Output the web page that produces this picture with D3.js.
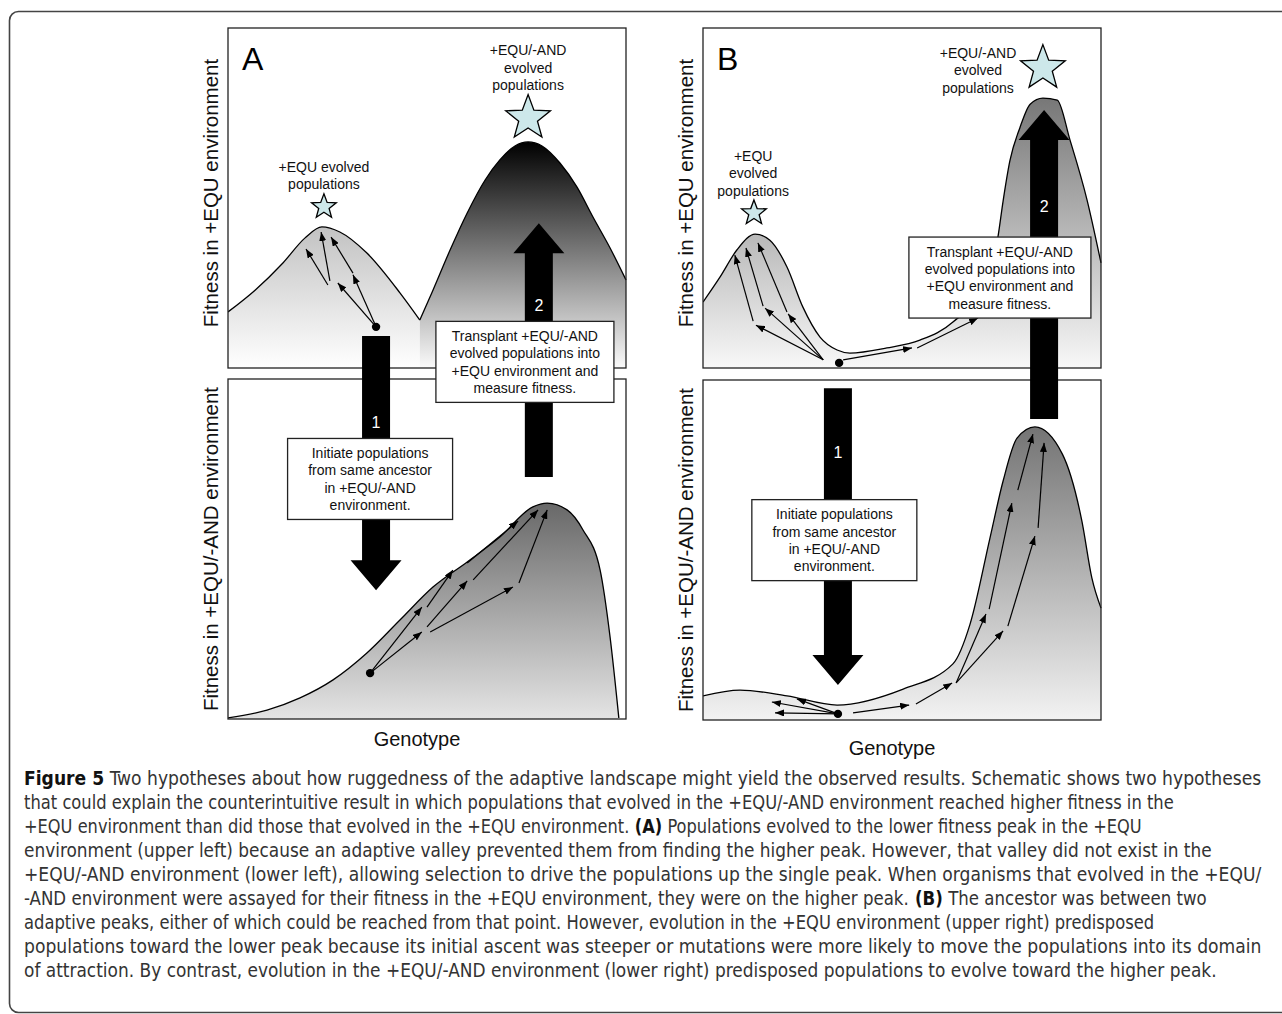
<!DOCTYPE html>
<html>
<head>
<meta charset="utf-8">
<script src="https://cdn.jsdelivr.net/npm/d3@7"></script>
<style>
  body { margin: 0; background: #fff; }
  svg { display: block; }
</style>
</head>
<body>
<svg id="fig" width="1282" height="1014"></svg>
<script>
// fitness landscapes, genotype 0-100 vs fitness 0-100
const hillA_upperLeft = [[0,16.5],[6.8,22.9],[13.8,30.9],[19.3,38.2],[23.6,41.5],[28.1,40],[34.9,33.8],[43.2,22.1],[48.2,14.1]];
const hillA_upperRight = [[48.2,14.1],[51.5,22.9],[55.8,34.7],[60.1,45.6],[64.6,55.3],[68.3,61.2],[72.1,65.3],[75.4,66.5],[78.9,65.3],[83.4,60.3],[87.7,53.2],[91.7,44.4],[96,35.3],[100,25.9]];
const landscapeA_lower = [[0,0.3],[9.8,2.6],[18.1,6.2],[26.4,11.5],[34.9,19.4],[43.2,29.1],[51.5,38.8],[60.1,46.2],[68.3,53.5],[76.6,62.4],[80.2,63.5],[85.2,61.5],[89.2,55.6],[93.5,43.8],[96,24.1],[98.2,0.3]];
const landscapeB_upper = [[0,19.4],[4.3,26.8],[8.5,34.7],[13.1,39.4],[16.8,37.6],[21.1,29.7],[25.1,17.9],[29.4,9.1],[33.7,5.3],[36.9,4.4],[46.2,5.9],[54.5,8.2],[62.8,13.5],[69.6,22.9],[74.1,38.5],[75.4,49.1],[77.1,60.9],[79.6,70.6],[82.2,77.6],[85.4,79.4],[89,78.8],[92.2,67.1],[96.5,49.4],[100,30.9]];
const landscapeB_lower = [[0,7.1],[9.3,8.8],[21.1,7.1],[33.7,4.4],[50.3,9.1],[62.8,16.5],[67.1,28.2],[72.1,53.5],[75.4,70.3],[78.9,82.9],[83.4,86.2],[90.3,78.2],[95.2,58.5],[97.7,41.8],[100,32.9]];

// ancestors [genotype, fitness]
const ancestorA_upper = [37.2, 12.1];
const ancestorA_lower = [35.7, 13.5];
const ancestorB_upper = [34.2, 1.5];
const ancestorB_lower = [33.9, 1.8];

// mutation steps [g1, f1, g2, f2]
const stepsA_upper = [[37.2,12.1,27.6,25],[37.2,12.1,31.4,27.4],[25.1,24.4,19.6,35],[25.6,25.6,23.4,40],[31.4,27.9,25.9,38.5]];
const stepsA_lower = [[35.7,13.5,48.7,32.9],[35.7,13.5,48.7,25.6],[50,32.9,56.5,43.8],[50,27.1,60.1,40.6],[50.8,25.6,71.6,38.8],[60.1,45.9,72.9,58.2],[61.6,40.9,77.9,61.5],[73.1,40,80.2,61.5]];
const stepsB_upper = [[30.2,2.4,13.3,12.6],[30.2,2.4,15.6,17.6],[30.2,2.4,21.4,15.9],[12.6,13.8,8,33.2],[15.1,18.2,10.8,35.3],[21.1,16.5,13.8,36.8],[35.2,2.4,52.5,5.9],[53.8,5.9,69.1,14.7]];
const stepsB_lower = [[33.9,1.8,17.3,5.3],[33.9,1.8,23.6,6.2],[33.9,1.8,18.1,2.1],[37.7,2.1,51.8,4.4],[53.5,4.7,62.6,10.9],[63.6,10.9,71.1,31.2],[63.6,10.9,75.4,26.2],[71.9,32.6,77.6,63.8],[76.6,27.6,83.4,54.1],[79.1,67.6,82.9,84.1],[84.2,56.5,85.7,81.5]];

// stars marking evolved populations [genotype, fitness, kind]
const starsA = [[24.1,47.4,"small"],[75.4,73.5,"big"]];
const starsB = [[12.8,45.6,"small"],[85.4,88.2,"big"]];

// star labels: g, f of last line
const starLabelsA = [{lines:["+EQU evolved","populations"], g:24.1, f:54.1},{lines:["+EQU/-AND","evolved","populations"], g:75.4, f:83.2}];
const starLabelsB = [{lines:["+EQU","evolved","populations"], g:12.6, f:52.1},{lines:["+EQU/-AND","evolved","populations"], g:69.1, f:82.4}];

// transfer arrows between the two environments
const transfersA = [{label:"1", g:37.2, tail:["upper",9.4], tip:["lower",37.9], labelAt:["lower",87.4]},
                    {label:"2", g:78.1, tail:["lower",71.2], tip:["upper",42.6], labelAt:["upper",18.5]}];
const transfersB = [{label:"1", g:33.9, tail:["lower",97.6], tip:["lower",10.3], labelAt:["lower",78.8]},
                    {label:"2", g:85.7, tail:["lower",88.5], tip:["upper",75.9], labelAt:["upper",47.6]}];

// note boxes
const transplantText = ["Transplant +EQU/-AND","evolved populations into","+EQU environment and","measure fitness."];
const initiateText = ["Initiate populations","from same ancestor","in +EQU/-AND","environment."];
const notesA = [{lines:transplantText, g:74.6, at:["upper",1.8], w:178},{lines:initiateText, g:35.7, at:["lower",70.6], w:165}];
const notesB = [{lines:transplantText, g:74.6, at:["upper",26.6], w:182},{lines:initiateText, g:33, at:["lower",52.9], w:165}];

const yTitles = ["Fitness in +EQU environment", "Fitness in +EQU/-AND environment"];
const xTitle = "Genotype";

const captionLines = [
  [["Figure 5",1],["Two hypotheses about how ruggedness of the adaptive landscape might yield the observed results. Schematic shows two hypotheses",0]],
  [["that could explain the counterintuitive result in which populations that evolved in the +EQU/-AND environment reached higher fitness in the",0]],
  [["+EQU environment than did those that evolved in the +EQU environment.",0],["(A)",1],["Populations evolved to the lower fitness peak in the +EQU",0]],
  [["environment (upper left) because an adaptive valley prevented them from finding the higher peak. However, that valley did not exist in the",0]],
  [["+EQU/-AND environment (lower left), allowing selection to drive the populations up the single peak. When organisms that evolved in the +EQU/",0]],
  [["-AND environment were assayed for their fitness in the +EQU environment, they were on the higher peak.",0],["(B)",1],["The ancestor was between two",0]],
  [["adaptive peaks, either of which could be reached from that point. However, evolution in the +EQU environment (upper right) predisposed",0]],
  [["populations toward the lower peak because its initial ascent was steeper or mutations were more likely to move the populations into its domain",0]],
  [["of attraction. By contrast, evolution in the +EQU/-AND environment (lower right) predisposed populations to evolve toward the higher peak.",0]]
];
const captionLineEnds = [1262, 1175, 1142, 1213, 1262, 1207, 1155, 1262, 1217];

const svg = d3.select("#fig");
const font = "'Liberation Sans', Arial, Helvetica, sans-serif";
const defs = svg.append("defs");

defs.append("marker")
  .attr("id", "head")
  .attr("viewBox", "0 0 9 7")
  .attr("refX", 9).attr("refY", 3.5)
  .attr("markerWidth", 9).attr("markerHeight", 7)
  .attr("markerUnits", "userSpaceOnUse")
  .attr("orient", "auto")
  .append("path").attr("d", "M0,0L9,3.5L0,7Z").attr("fill", "#000");

//outer frame
svg.append("rect")
  .attr("x", 9.5).attr("y", 11.5).attr("width", 1300).attr("height", 1001)
  .attr("rx", 9).attr("fill", "none").attr("stroke", "#444").attr("stroke-width", 1.6);

function gradient(id, y1, y2, c1, c2) {
  const g = defs.append("linearGradient").attr("id", id)
    .attr("gradientUnits", "userSpaceOnUse")
    .attr("x1", 0).attr("x2", 0).attr("y1", y1).attr("y2", y2);
  g.append("stop").attr("offset", 0).attr("stop-color", c1);
  g.append("stop").attr("offset", 1).attr("stop-color", c2);
  return "url(#" + id + ")";
}

function starPath(r) {
  const pts = [];
  for (let i = 0; i < 10; i++) {
    const a = -Math.PI / 2 + i * Math.PI / 5;
    const rr = i % 2 ? r * 0.42 : r;
    pts.push([rr * Math.cos(a), rr * Math.sin(a)]);
  }
  return "M" + pts.map(p => p.join(",")).join("L") + "Z";
}

function drawPanel(p) {
  const x = d3.scaleLinear([0, 100], [p.x0, p.x1]);
  const y = {
    upper: d3.scaleLinear([0, 100], [p.upper[1], p.upper[0]]),
    lower: d3.scaleLinear([0, 100], [p.lower[1], p.lower[0]])
  };
  const g = svg.append("g");

  ["upper", "lower"].forEach(k => {
    defs.append("clipPath").attr("id", "clip" + p.id + k)
      .append("rect").attr("x", p.x0).attr("y", y[k](100))
      .attr("width", p.x1 - p.x0 + 1).attr("height", y[k](0) - y[k](100));
  });

  // landscapes
  p.hills.forEach((h, i) => {
    const sy = y[h.env];
    const peak = d3.max(h.data, d => d[1]);
    const fill = gradient("grad" + p.id + i, sy(peak), sy(0), h.top, h.bottom);
    const area = d3.area().x(d => x(d[0])).y0(sy(0)).y1(d => sy(d[1])).curve(d3.curveMonotoneX);
    const line = d3.line().x(d => x(d[0])).y(d => sy(d[1])).curve(d3.curveMonotoneX);
    const hg = g.append("g").attr("clip-path", "url(#clip" + p.id + h.env + ")");
    hg.append("path").datum(h.data).attr("d", area).attr("fill", fill);
    hg.append("path").datum(h.data).attr("d", line).attr("fill", "none")
      .attr("stroke", "#000").attr("stroke-width", 1.3);
  });

  // boxes
  ["upper", "lower"].forEach(k => {
    g.append("rect").attr("x", p.x0).attr("y", y[k](100))
      .attr("width", p.x1 - p.x0).attr("height", y[k](0) - y[k](100))
      .attr("fill", "none").attr("stroke", "#222").attr("stroke-width", 1.3);
  });

  // mutation steps and ancestors
  ["upper", "lower"].forEach(k => {
    g.selectAll(null).data(p.steps[k]).join("line")
      .attr("x1", d => x(d[0])).attr("y1", d => y[k](d[1]))
      .attr("x2", d => x(d[2])).attr("y2", d => y[k](d[3]))
      .attr("stroke", "#000").attr("stroke-width", 1.2)
      .attr("marker-end", "url(#head)");
    g.append("circle").attr("cx", x(p.ancestor[k][0])).attr("cy", y[k](p.ancestor[k][1]))
      .attr("r", 4.2).attr("fill", "#000");
  });

  // stars + labels
  const starR = { small: 13, big: 23.5 };
  g.selectAll(null).data(p.stars).join("path")
    .attr("transform", d => `translate(${x(d[0])},${y.upper(d[1])})`)
    .attr("d", d => starPath(starR[d[2]]))
    .attr("fill", "#cde8ea").attr("stroke", "#000").attr("stroke-width", 1.3);

  p.starLabels.forEach(l => {
    const n = l.lines.length;
    l.lines.forEach((t, i) => {
      g.append("text").attr("x", x(l.g)).attr("y", y.upper(l.f) - (n - 1 - i) * 17.5 + 5)
        .attr("text-anchor", "middle").attr("font-family", font).attr("font-size", 14)
        .attr("fill", "#111").text(t);
    });
  });

  // big transfer arrows
  const sw = 14, hw = 25.5, hl = 30;
  p.transfers.forEach(a => {
    const cx = x(a.g);
    const yt = y[a.tail[0]](a.tail[1]);
    const yp = y[a.tip[0]](a.tip[1]);
    const dir = yp > yt ? 1 : -1;
    const yb = yp - dir * hl;
    g.append("path")
      .attr("d", `M${cx - sw},${yt}L${cx - sw},${yb}L${cx - hw},${yb}L${cx},${yp}L${cx + hw},${yb}L${cx + sw},${yb}L${cx + sw},${yt}Z`)
      .attr("fill", "#000");
    g.append("text").attr("x", cx).attr("y", y[a.labelAt[0]](a.labelAt[1]) + 6)
      .attr("text-anchor", "middle").attr("font-family", font).attr("font-size", 16)
      .attr("fill", "#fff").text(a.label);
  });

  // note boxes
  p.notes.forEach(nb => {
    const cx = x(nb.g), cy = y[nb.at[0]](nb.at[1]);
    const h = 81;
    g.append("rect").attr("x", cx - nb.w / 2).attr("y", cy - h / 2)
      .attr("width", nb.w).attr("height", h)
      .attr("fill", "#fff").attr("stroke", "#222").attr("stroke-width", 1.3);
    nb.lines.forEach((t, i) => {
      g.append("text").attr("x", cx).attr("y", cy - 26 + i * 17.4 + 5)
        .attr("text-anchor", "middle").attr("font-family", font).attr("font-size", 14)
        .attr("fill", "#111").text(t);
    });
  });

  // panel letter and titles
  g.append("text").attr("x", p.x0 + 14).attr("y", y.upper(100) + 42)
    .attr("font-family", font).attr("font-size", 32).attr("fill", "#000").text(p.id);

  ["upper", "lower"].forEach((k, i) => {
    const cy = (y[k](0) + y[k](100)) / 2 + (i === 0 ? -5 : 0);
    g.append("text")
      .attr("transform", `translate(${p.x0 - 10},${cy}) rotate(-90)`)
      .attr("text-anchor", "middle").attr("font-family", font).attr("font-size", 20.5)
      .attr("fill", "#111").text(yTitles[i]);
  });
  g.append("text").attr("x", (p.x0 + p.x1) / 2 - 10).attr("y", y.lower(0) + 27 + p.genotypeShift)
    .attr("text-anchor", "middle").attr("font-family", font).attr("font-size", 20)
    .attr("fill", "#111").text(xTitle);
}

drawPanel({
  id: "A", x0: 228, x1: 626, upper: [28, 368], lower: [379, 719], genotypeShift: 0,
  hills: [
    { env: "upper", data: hillA_upperLeft, top: "#c2c2c2", bottom: "#ffffff" },
    { env: "upper", data: hillA_upperRight, top: "#000000", bottom: "#fafafa" },
    { env: "lower", data: landscapeA_lower, top: "#686868", bottom: "#e4e4e4" }
  ],
  steps: { upper: stepsA_upper, lower: stepsA_lower },
  ancestor: { upper: ancestorA_upper, lower: ancestorA_lower },
  stars: starsA, starLabels: starLabelsA, transfers: transfersA, notes: notesA
});

drawPanel({
  id: "B", x0: 703, x1: 1101, upper: [28, 368], lower: [380, 720], genotypeShift: 8,
  hills: [
    { env: "upper", data: landscapeB_upper, top: "#777777", bottom: "#f8f8f8" },
    { env: "lower", data: landscapeB_lower, top: "#747474", bottom: "#f2f2f2" }
  ],
  steps: { upper: stepsB_upper, lower: stepsB_lower },
  ancestor: { upper: ancestorB_upper, lower: ancestorB_lower },
  stars: starsB, starLabels: starLabelsB, transfers: transfersB, notes: notesB
});

// caption: runs laid side by side, then each line squeezed horizontally to its width
const cap = svg.append("g")
  .attr("font-family", "'Liberation Sans Narrow', 'DejaVu Sans Condensed', 'Open Sans', sans-serif")
  .attr("font-size", 19);
const gap = 5.5;
captionLines.forEach((runs, i) => {
  const lg = cap.append("g");
  let xx = 0;
  runs.forEach((r, j) => {
    const t = lg.append("text")
      .attr("x", xx).attr("y", 0)
      .attr("font-weight", r[1] ? "bold" : "normal")
      .attr("fill", r[1] ? "#111" : "#333")
      .text(r[0]);
    xx += t.node().getComputedTextLength() + (j < runs.length - 1 ? gap : 0);
  });
  const k = (captionLineEnds[i] - 24) / xx;
  lg.attr("transform", `translate(24,${785 + i * 24}) scale(${k},1)`);
});
</script>
</body>
</html>
